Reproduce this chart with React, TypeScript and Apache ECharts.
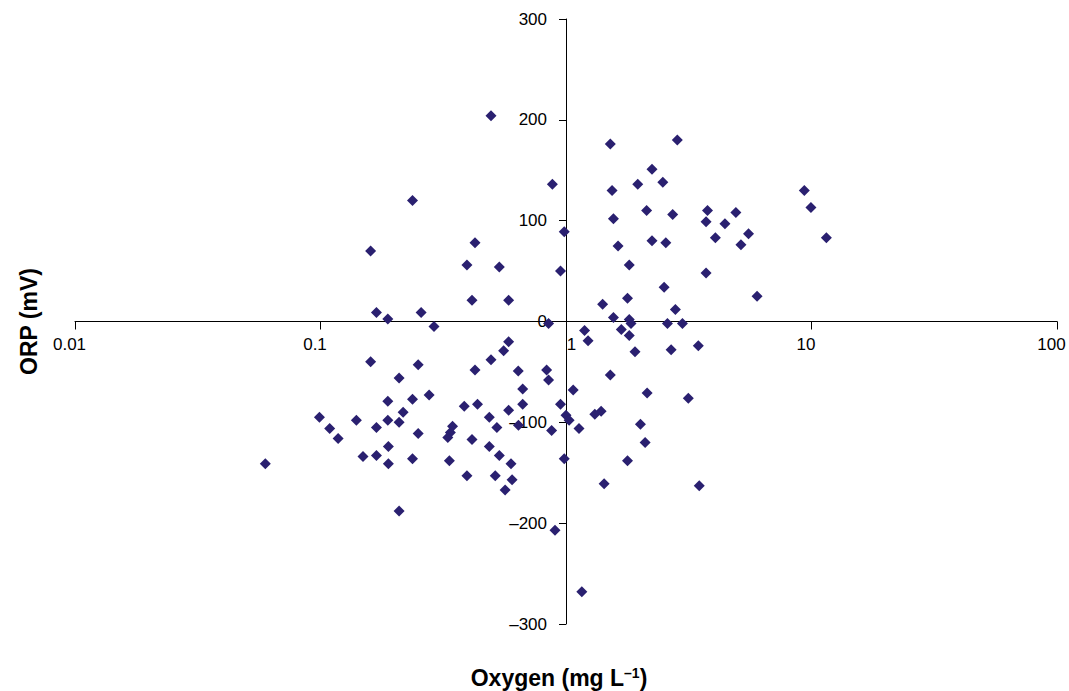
import React, { useEffect, useRef } from "react";
import * as echarts from "echarts";

// Oxygen (mg/L) values of the points
const oxygen: number[] = [
  0.495, 0.88, 0.237, 0.984, 0.16, 0.426, 0.395, 0.535, 0.95, 0.414, 0.584, 0.169, 0.188, 0.257, 0.29, 0.849,
  0.584, 0.557, 0.16, 0.25, 0.495, 0.426, 0.639, 0.834, 0.849, 0.209, 0.666, 1.07, 0.188, 0.237, 0.277, 0.385,
  0.436, 0.666, 0.95, 0.099, 0.14, 0.188, 0.209, 0.217, 0.487, 0.584, 0.64, 0.523, 1.0, 1.03, 0.874, 1.13,
  0.109, 0.118, 0.169, 0.25, 0.345, 0.338, 0.33, 0.414, 0.189, 0.487, 0.535, 0.597, 0.149, 0.169, 0.189, 0.237,
  0.335, 0.395, 0.515, 0.603, 0.565, 0.0596, 0.209, 0.984, 0.902,
  1.515, 2.84, 2.24, 1.96, 2.48, 1.54, 9.35, 9.95, 2.13, 2.72, 3.77, 4.92, 1.56, 3.72, 4.44, 5.54, 4.06, 5.16,
  11.5, 1.63, 2.24, 2.55, 1.81, 3.72, 2.51, 6.0, 1.41, 1.78, 2.79, 1.56, 1.81, 1.84, 2.59, 2.98, 1.19, 1.68,
  1.23, 1.81, 1.91, 2.68, 3.46, 1.515, 2.14, 3.15, 1.31, 1.39, 2.01, 2.1, 1.78, 1.43, 3.49, 1.16,
];

// ORP (mV) values of the points, same order
const orp: number[] = [
  204, 136, 120, 89, 70, 78, 56, 54, 50, 21, 21, 9, 2.5, 9, -5, -2,
  -20, -29, -40, -43, -38, -48, -49, -48, -58, -56, -67, -68, -79, -77, -73, -84,
  -82, -82, -82, -95, -98, -98, -100, -90, -95, -88, -103, -105, -93, -98, -108, -106,
  -106, -116, -105, -111, -104, -110, -115, -117, -124, -124, -133, -141, -134, -133, -141, -136,
  -138, -153, -153, -157, -167, -141, -188, -136, -207,
  176, 180, 151, 136, 138, 130, 130, 113, 110, 106, 110, 108, 102, 99, 97, 87, 83, 76,
  83, 75, 80, 78, 56, 48, 34, 25, 17, 23, 12, 4, 2, -2, -2, -2, -9, -8,
  -19, -14, -30, -28, -24, -53, -71, -76, -92, -89, -102, -120, -138, -161, -163, -268,
];

const xTickLabels: string[] = ["0.01", "0.1", "1", "10", "100"];
const yTicks: number[] = [-300, -200, -100, 0, 100, 200, 300];

const FONT = "'Liberation Sans', Arial, sans-serif";

export default function App() {
  const ref = useRef<HTMLDivElement>(null);

  useEffect(() => {
    if (!ref.current) return;
    const chart = echarts.init(ref.current, undefined, { renderer: "svg" });
    const data = oxygen.map((x, i) => [x, orp[i]]);
    const W = 1069;
    const H = 691;
    const gridLeft = 75;
    const gridRight = 12;
    const gridTop = 19;
    const gridBottom = 67;
    const gridWidth = W - gridLeft - gridRight;
    const gridHeight = H - gridTop - gridBottom;
    // y-axis crosses the log x-axis at 1 (log10 = 0); x-axis crosses the y-axis at 0
    const xCrossFrac = (0 - -2) / (2 - -2);
    const yCrossFrac = (0 - yTicks[0]) / (yTicks[yTicks.length - 1] - yTicks[0]);
    const yOffset = -gridWidth * xCrossFrac;
    const xOffset = -gridHeight * yCrossFrac;

    chart.setOption({
      animation: false,
      backgroundColor: "#ffffff",
      textStyle: { fontFamily: FONT },
      grid: { left: gridLeft, right: gridRight, top: gridTop, bottom: gridBottom, outerBoundsMode: "none", containLabel: false },
      xAxis: {
        type: "log",
        logBase: 10,
        min: 0.01,
        max: 100,
        offset: xOffset,
        name: "Oxygen (mg L{sup|\u20131})",
        nameLocation: "middle",
        nameGap: 344,
        nameTextStyle: {
          fontFamily: FONT,
          fontSize: 23,
          fontWeight: "bold",
          color: "#000",
          padding: [0, 14, 0, 0],
          rich: {
            sup: { fontSize: 14, fontWeight: "bold", fontFamily: FONT, color: "#000", verticalAlign: "top", padding: [0, 0, 10, 0] },
          },
        },
        axisLine: { onZero: false, lineStyle: { color: "#000", width: 1 } },
        axisTick: { show: true, length: 8, lineStyle: { color: "#000" } },
        minorTick: { show: false },
        splitLine: { show: false },
        axisLabel: {
          fontSize: 17,
          fontFamily: FONT,
          color: "#000",
          margin: 14,
          formatter: (v: number) => {
            const t = xTickLabels[Math.round(Math.log10(v)) + 2] ?? String(v);
            return t === "1" ? "{r|" + t + "}" : "{l|" + t + "}";
          },
          rich: {
            l: { fontSize: 17, fontFamily: FONT, color: "#000", padding: [0, 11, 0, 0] },
            r: { fontSize: 17, fontFamily: FONT, color: "#000", padding: [0, 0, 0, 11] },
          },
        },
      },
      yAxis: {
        type: "value",
        min: yTicks[0],
        max: yTicks[yTicks.length - 1],
        interval: 100,
        offset: yOffset,
        name: "ORP (mV)",
        nameLocation: "middle",
        nameGap: 526,
        nameTextStyle: { fontFamily: FONT, fontSize: 23, fontWeight: "bold", color: "#000" },
        axisLine: { show: true, onZero: false, lineStyle: { color: "#000", width: 1 } },
        axisTick: { show: true, length: 7, lineStyle: { color: "#000" } },
        splitLine: { show: false },
        axisLabel: {
          fontSize: 17,
          fontFamily: FONT,
          color: "#000",
          margin: 19,
          formatter: (v: number) => (v < 0 ? "\u2013" + Math.abs(v) : String(v)),
        },
      },
      series: [
        {
          type: "scatter",
          data,
          symbol: "diamond",
          symbolSize: 11,
          itemStyle: { color: "#2a2070", opacity: 1 },
        },
      ],
    });
    return () => chart.dispose();
  }, []);

  return (
    <div
      ref={ref}
      style={{ position: "absolute", left: 0, top: 0, width: 1069, height: 691, background: "#fff" }}
    />
  );
}
